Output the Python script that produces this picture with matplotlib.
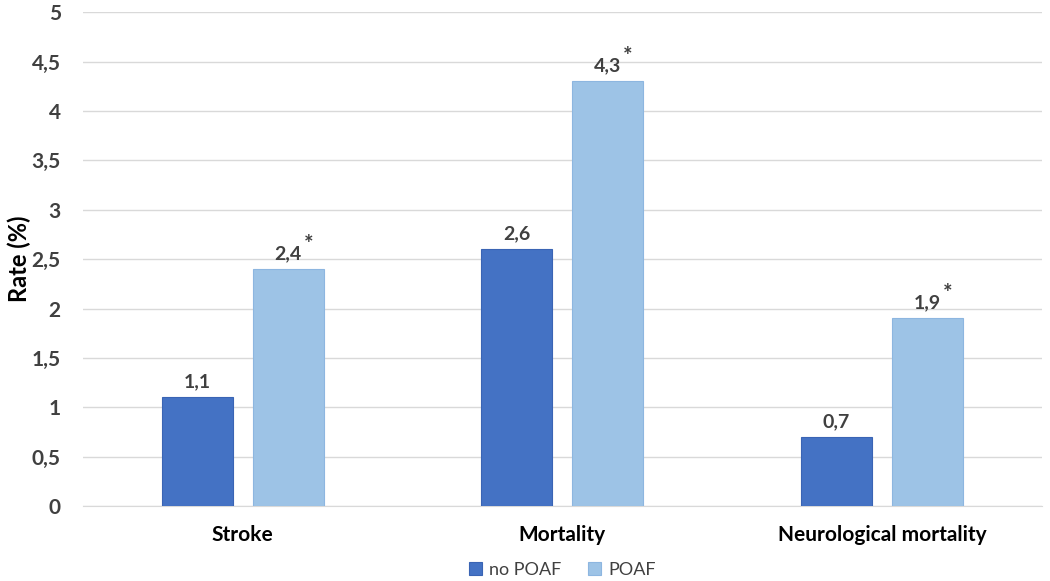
import numpy as np
import matplotlib.pyplot as plt

plt.rcParams["font.family"] = ["Lato", "DejaVu Sans"]

categories = ["Stroke", "Mortality", "Neurological mortality"]
no_poaf = [1.1, 2.6, 0.7]
poaf = [2.4, 4.3, 1.9]
significant = [True, True, True]
yticks = [0, 0.5, 1, 1.5, 2, 2.5, 3, 3.5, 4, 4.5, 5]

c_dark = "#4472C4"
c_light = "#9DC3E6"
txt = "#404040"


def comma(v):
    return ("%g" % v).replace(".", ",")


fig = plt.figure(figsize=(10.5, 5.81), dpi=100)
ax = fig.add_axes([0.079, 0.129, 0.913, 0.850])

x = np.arange(len(categories))
w = 0.222
off = 0.142
ax.bar(x - off, no_poaf, w, color=c_dark, edgecolor="#3A64B4", linewidth=0.8,
       label="no POAF", zorder=3)
ax.bar(x + off, poaf, w, color=c_light, edgecolor="#8DB6E0", linewidth=0.8,
       label="POAF", zorder=3)

for xi, v in zip(x - off, no_poaf):
    ax.annotate(comma(v), (xi, v), xytext=(0, 5), textcoords="offset points",
                ha="center", va="bottom", fontsize=14, fontweight="bold", color=txt)
for xi, v, s in zip(x + off, poaf, significant):
    ax.annotate(comma(v), (xi, v), xytext=(0, 5), textcoords="offset points",
                ha="center", va="bottom", fontsize=14, fontweight="bold", color=txt)
    if s:
        ax.annotate("*", (xi, v), xytext=(11, 10), textcoords="offset points",
                    ha="left", va="bottom", fontsize=16, fontweight="bold", color=txt)

ax.set_xlim(-0.5, 2.5)
ax.set_ylim(0, 5)
ax.set_yticks(yticks)
ax.set_yticklabels([comma(t) for t in yticks], fontsize=15, fontweight="bold", color=txt)
ax.set_xticks(x)
ax.set_xticklabels(categories, fontsize=15, fontweight="bold", color="black")
ax.tick_params(axis="both", length=0)
ax.tick_params(axis="y", pad=16)
ax.tick_params(axis="x", pad=14)
ax.yaxis.grid(True, color="#D9D9D9", linewidth=1, zorder=0)
for sp in ["top", "right", "left"]:
    ax.spines[sp].set_visible(False)
ax.spines["bottom"].set_color("#D9D9D9")
ax.set_ylabel("Rate (%)", fontsize=17, fontweight="bold", color="black", labelpad=0)

ax.legend(loc="upper center", bbox_to_anchor=(0.5, -0.08), ncol=2, frameon=False,
          fontsize=13, handlelength=0.7, handleheight=0.7, handletextpad=0.4,
          columnspacing=1.5, labelcolor=txt)

fig.savefig("out.png", dpi=100)
